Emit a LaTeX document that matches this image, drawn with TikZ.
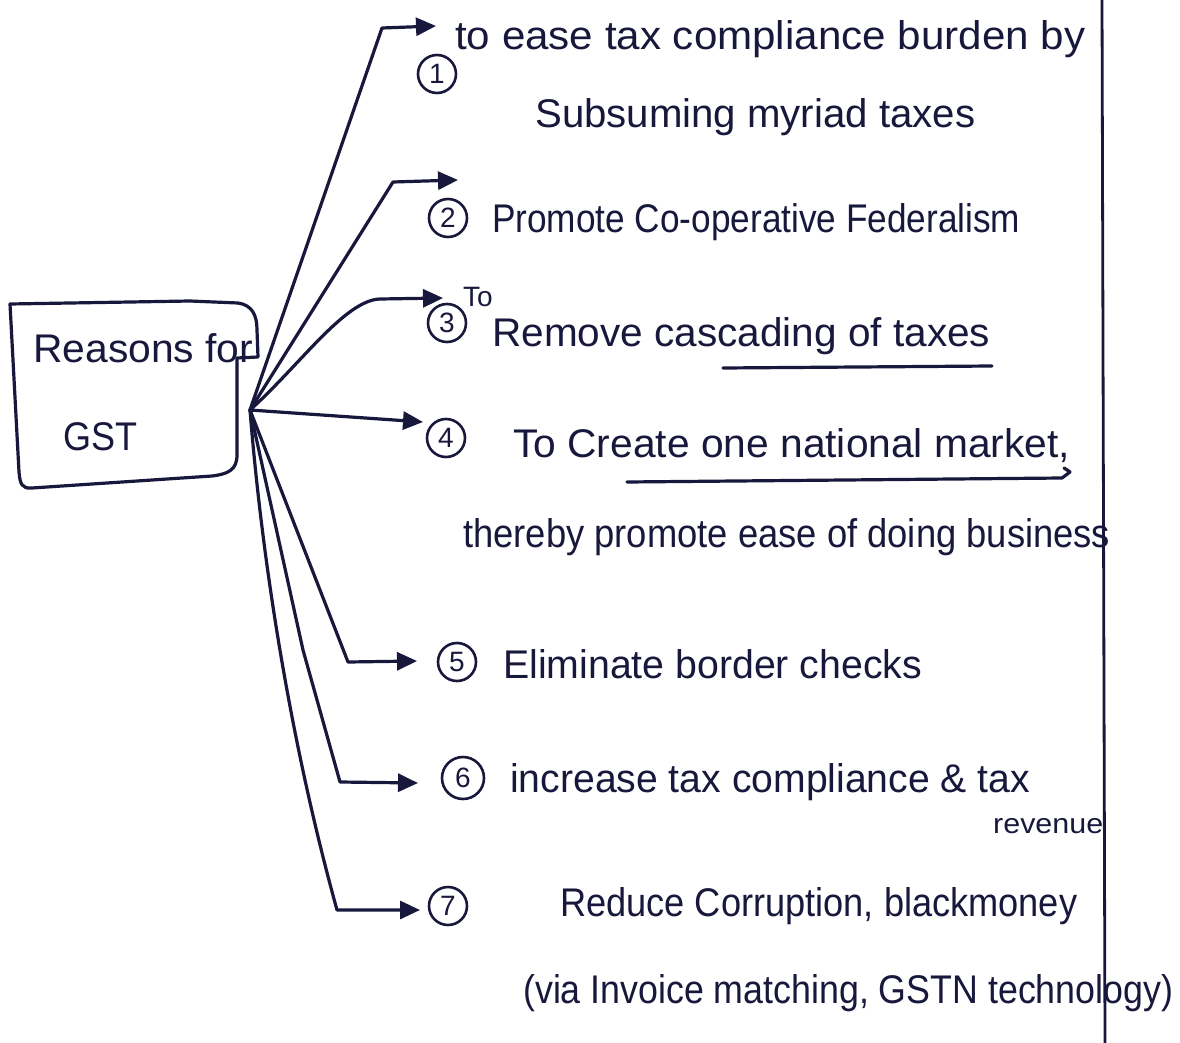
\documentclass[tikz,border=0pt]{standalone}
\usepackage{fontspec}
\setmainfont{Liberation Sans}
\usetikzlibrary{arrows.meta,calc}
\definecolor{ink}{RGB}{24,24,60}
% squeeze or stretch a line of text to a given width, keeping its height
\newcommand{\linefit}[2]{\resizebox{#1}{\height}{#2}}
\begin{document}
\begin{tikzpicture}[x=1pt,y=-1pt,
  pen/.style={draw=ink, line width=3.2pt, line cap=round, line join=round},
  arrowpen/.style={pen, -{Triangle[length=20pt,width=18pt]}},
  num/.style={circle, draw=ink, line width=2.6pt, inner sep=0pt, minimum size=38pt,
    text=ink, font=\fontsize{28}{28}\selectfont},
  say/.style={anchor=base west, inner sep=0pt, text=ink, font=\fontsize{40}{44}\selectfont},
  small/.style={say, font=\fontsize{28}{30}\selectfont},
]
\fill[white] (0,0) rectangle (1180,1043);
\useasboundingbox (0,0) rectangle (1180,1043);

% margin rule on the right
\draw[ink, line width=2.8pt] (1102,0) -- (1105,1043);

% title box
\draw[pen] (10,304) -- (190,301) -- (238,303) .. controls (252,305) and (257,315) .. (257,330)
  -- (258,357) -- (237,358) -- (237,455) .. controls (237,470) and (228,474) .. (212,476)
  -- (32,488) .. controls (22,489) and (20,484) .. (19,472) -- cycle;
\node[say] (title) at (33,362) {\linefit{220pt}{Reasons for}};
\node[say] (gst) at (63,450) {\linefit{74pt}{GST}};

\coordinate (hub) at (250,410);

% item 1
\node[num] (n1) at (437,74) {1};
\node[say] (t1a) at (455,50) {\linefit{630pt}{to ease tax compliance burden by}};
\node[say] (t1b) at (535,128) {\linefit{440pt}{Subsuming myriad taxes}};
\coordinate (k1) at (382,28);
\coordinate (p1) at (436,26);
\draw[arrowpen] (hub) -- (k1) -- (p1);

% item 2
\node[num] (n2) at (448,218) {2};
\node[say] (t2) at (492,232) {\linefit{528pt}{Promote Co-operative Federalism}};
\coordinate (k2) at (393,182);
\coordinate (p2) at (458,180);
\draw[arrowpen] (hub) -- (k2) -- (p2);

% item 3
\node[num] (n3) at (447,323) {3};
\node[small] (to3) at (463,306) {To};
\node[say] (t3) at (492,346) {\linefit{498pt}{Remove cascading of taxes}};
\coordinate (u3a) at (723,368);
\coordinate (u3b) at (992,366);
\draw[pen] (u3a) -- (u3b);
\coordinate (p3) at (443,298);
\draw[arrowpen] (hub) .. controls (300,365) and (345,300) .. (380,299) -- (p3);

% item 4
\node[num] (n4) at (446,438) {4};
\node[say] (t4a) at (513,457) {\linefit{557pt}{To Create one national market,}};
\coordinate (u4a) at (627,482);
\coordinate (u4b) at (1062,478);
\draw[pen] (u4a) -- (u4b) -- (1070,472) -- (1064,468);
\node[say] (t4b) at (463,547) {\linefit{647pt}{thereby promote ease of doing business}};
\coordinate (p4) at (423,422);
\draw[arrowpen] (hub) -- (p4);

% item 5
\node[num] (n5) at (457,662) {5};
\node[say] (t5) at (503,678) {\linefit{419pt}{Eliminate border checks}};
\coordinate (k5) at (348,662);
\coordinate (p5) at (417,661);
\draw[arrowpen] (hub) -- (k5) -- (p5);

% item 6
\node[num, minimum size=42pt] (n6) at (463,778) {6};
\node[say] (t6a) at (510,792) {\linefit{520pt}{increase tax compliance \& tax}};
\node[small] (t6b) at (993,833) {\linefit{110pt}{revenue}};
\coordinate (k6) at (340,782);
\coordinate (p6) at (418,783);
\draw[arrowpen] (hub) -- (303,650) -- (k6) -- (p6);

% item 7
\node[num] (n7) at (448,906) {7};
\node[say] (t7a) at (560,916) {\linefit{517pt}{Reduce Corruption, blackmoney}};
\node[say] (t7b) at (523,1003) {\linefit{650pt}{(via Invoice matching, GSTN technology)}};
\coordinate (k7) at (337,910);
\coordinate (p7) at (420,910);
\draw[arrowpen] (hub) .. controls (262,560) and (290,740) .. (k7) -- (p7);
\end{tikzpicture}
\end{document}
